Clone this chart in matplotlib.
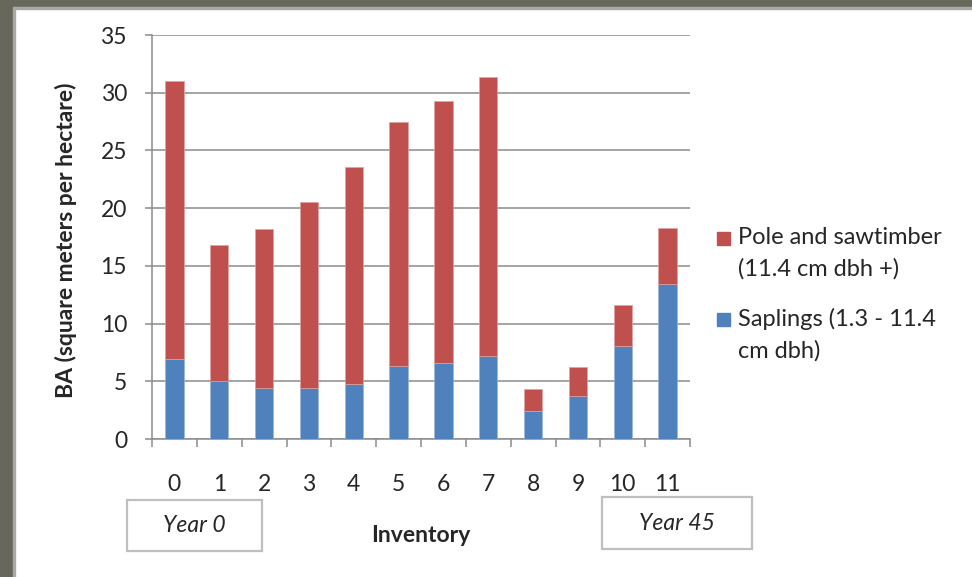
import numpy as np
import matplotlib.pyplot as plt
from matplotlib.patches import Rectangle

plt.rcParams['font.family'] = ['Lato', 'DejaVu Sans']

inventory = ['0', '1', '2', '3', '4', '5', '6', '7', '8', '9', '10', '11']
saplings = [6.9, 5.0, 4.4, 4.4, 4.8, 6.3, 6.6, 7.2, 2.4, 3.7, 8.1, 13.4]
pole_saw = [24.1, 11.8, 13.8, 16.1, 18.8, 21.2, 22.7, 24.2, 1.9, 2.5, 3.5, 4.9]

red = '#C0504D'
blue = '#4F81BD'
grey = '#8C8C8C'
txt = '#262626'
fs = 16.5

W, H = 972, 577
fig = plt.figure(figsize=(W / 100, H / 100), dpi=100)


def px_rect(x0, y0, w, h, **kw):
    # rectangle given in pixels from the top-left corner
    fig.patches.append(Rectangle((x0 / W, 1 - (y0 + h) / H), w / W, h / H,
                                 transform=fig.transFigure, **kw))


# slide frame along the top and left
px_rect(0, 0, W, 7, color='#67685B', zorder=0)
px_rect(0, 7, W, 2, color='#A8A8A8', zorder=0)
px_rect(0, 0, 13, H, color='#67685B', zorder=0)
px_rect(13, 7, 2, H, color='#A8A8A8', zorder=0)

ax = fig.add_axes([152 / W, 1 - 439 / H, 538 / W, 404 / H])
x = np.arange(len(inventory))
ax.bar(x, saplings, width=0.41, color=blue, edgecolor='#9DB6DA', linewidth=0.5, zorder=3)
ax.bar(x, pole_saw, width=0.41, bottom=saplings, color=red, edgecolor='#DDA3A1',
       linewidth=0.5, zorder=3)

ax.set_xlim(-0.5, len(inventory) - 0.5)
ax.set_ylim(0, 35)
ax.set_yticks(np.arange(0, 36, 5))
ax.yaxis.grid(True, color=grey, linewidth=1.1, zorder=0)
for s in ['top', 'right']:
    ax.spines[s].set_visible(False)
for s in ['left', 'bottom']:
    ax.spines[s].set_color(grey)
    ax.spines[s].set_linewidth(1.1)

ax.set_xticks(x)
ax.set_xticklabels(inventory)
ax.set_xticks(np.arange(-0.5, len(inventory)), minor=True)
ax.tick_params(axis='x', which='major', length=0, pad=25, labelsize=fs, labelcolor=txt)
ax.tick_params(axis='x', which='minor', length=6, width=1.1, color=grey)
ax.tick_params(axis='y', length=5, width=1.1, color=grey, pad=13, labelsize=fs,
               labelcolor=txt)

fig.text(66 / W, 1 - 240 / H, 'BA (square meters per hectare)', fontsize=fs,
         fontweight='bold', color=txt, rotation=90, ha='center', va='center')
fig.text(421 / W, 1 - 535 / H, 'Inventory', fontsize=fs, fontweight='bold', color=txt,
         ha='center', va='center')

# period boxes under the axis
for (x0, x1, y0, y1), label in [((127, 262, 500, 551), 'Year 0'),
                                ((602, 752, 497, 549), 'Year 45')]:
    px_rect(x0, y0, x1 - x0, y1 - y0, fill=False, edgecolor='#BFBFBF', linewidth=1.6)
    fig.text((x0 + x1) / 2 / W, 1 - (y0 + y1) / 2 / H, label, fontsize=fs,
             style='italic', color=txt, ha='center', va='center')

# legend: square beside the first line of each entry
legend_rows = [(red, 'Pole and sawtimber\n(11.4 cm dbh +)', 239),
               (blue, 'Saplings (1.3 - 11.4\ncm dbh)', 320)]
for colour, label, yc in legend_rows:
    px_rect(717, yc - 7, 13, 13, color=colour)
    fig.text(738 / W, 1 - (yc - 12) / H, label, fontsize=17, color=txt,
             ha='left', va='top', linespacing=1.55)

fig.savefig('out.png', dpi=100)
